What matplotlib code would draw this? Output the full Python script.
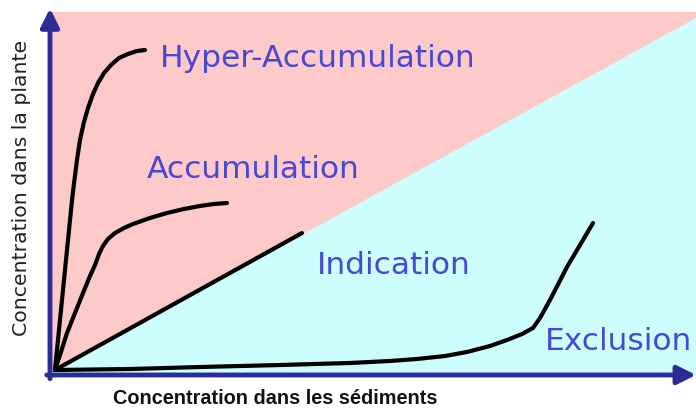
import matplotlib.pyplot as plt

# Plant concentration vs sediment concentration (schematic, arbitrary units 0-100)
hyper_x = [0.77, 1.39, 2.01, 2.63, 3.10, 3.41, 3.72, 4.18, 4.64, 5.26, 5.88,
           6.66, 7.43, 8.36, 9.44, 10.68, 12.07, 13.47, 14.71]
hyper_y = [1.38, 12.40, 23.42, 34.44, 42.70, 48.21, 52.89, 59.23, 64.74, 69.70, 73.55,
           77.41, 80.44, 83.20, 85.40, 87.33, 88.43, 89.26, 89.53]

accum_x = [0.77, 1.70, 2.63, 3.87, 5.11, 6.19, 6.97, 7.59, 8.20, 8.98, 10.06,
           11.46, 12.85, 15.48, 18.11, 20.74, 23.22, 25.39, 27.40]
accum_y = [1.38, 6.34, 11.57, 17.08, 22.59, 27.27, 30.30, 33.33, 35.54, 37.47, 39.12,
           40.50, 41.60, 43.25, 44.63, 45.73, 46.56, 47.11, 47.38]

indic_x = [0.77, 39.0]
indic_y = [1.38, 39.1]

excl_x = [0.77, 12.38, 23.22, 35.60, 46.44, 52.63, 56.81, 61.15, 64.55, 68.11,
          70.74, 73.07, 74.77, 75.85, 77.40, 80.03, 82.04, 84.06]
excl_y = [1.38, 1.65, 2.20, 2.75, 3.31, 3.86, 4.41, 5.23, 6.34, 7.99,
          9.64, 11.29, 12.95, 15.70, 20.66, 29.75, 35.81, 41.87]

# boundary between accumulating (pink) and excluding (cyan) zones
bound_x = [0.77, 100]
bound_y = [1.38, 98.6]

labels = ['Hyper-Accumulation', 'Accumulation', 'Indication', 'Exclusion']
label_x = [17.0, 15.0, 41.3, 76.6]
label_y = [87.3, 56.5, 30.3, 9.1]

pink = '#fdc9c9'
cyan = '#cdfdfd'
navy = '#2c2c94'
text_blue = '#4747d6'

fig = plt.figure(figsize=(6.96, 4.09), dpi=100)
ax = fig.add_axes([50 / 696, 34 / 409, 646 / 696, 363 / 409])
ax.set_xlim(0, 100)
ax.set_ylim(0, 100)
ax.axis('off')

ax.fill_between([0, 100], [100, 100], [0, 0], color=pink, lw=0)
ax.fill_between(bound_x, bound_y, [0, 0], color=cyan, lw=0)
ax.fill_between([0, bound_x[0]], [bound_y[0], bound_y[0]], [0, 0], color=cyan, lw=0)

for xs, ys in [(hyper_x, hyper_y), (accum_x, accum_y), (indic_x, indic_y), (excl_x, excl_y)]:
    ax.plot(xs, ys, color='black', lw=3.0, solid_capstyle='round', solid_joinstyle='round')

for txt, x, y in zip(labels, label_x, label_y):
    ax.text(x, y, txt, color=text_blue, fontsize=22.5, va='center', ha='left')

# axes arrows
ax.annotate('', xy=(0, 101), xytext=(0, -1), annotation_clip=False,
            arrowprops=dict(arrowstyle='-|>', lw=3.5, color=navy, mutation_scale=28, shrinkA=0, shrinkB=0))
ax.annotate('', xy=(100, 0), xytext=(-0.5, 0), annotation_clip=False,
            arrowprops=dict(arrowstyle='-|>', lw=3.5, color=navy, mutation_scale=28, shrinkA=0, shrinkB=0))

fig.text(22 / 696, 1 - 188 / 409, 'Concentration dans la plante', rotation=90,
         ha='center', va='center', fontsize=14.7, color='#222222')
fig.text(275 / 696, 1 - 398 / 409, 'Concentration dans les sédiments',
         ha='center', va='center', fontsize=14.3, fontweight='bold',
         family='Liberation Sans', color='#111111')

fig.savefig('out.png', dpi=100)
